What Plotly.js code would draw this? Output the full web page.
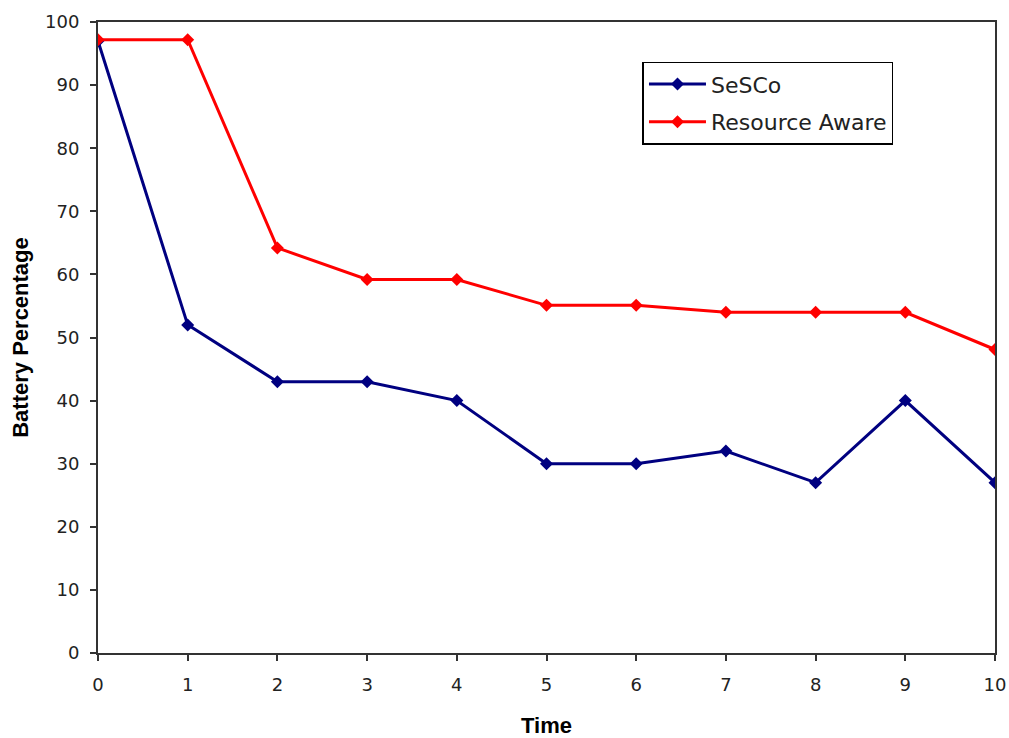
<!DOCTYPE html>
<html>
<head>
<meta charset="utf-8">
<script src="https://cdn.plot.ly/plotly-3.0.1.min.js"></script>
<style>
  html, body { margin: 0; padding: 0; background: #fff; }
  #chart { width: 1009px; height: 738px; }
</style>
</head>
<body>
<div id="chart"></div>
<script>
// Battery level over time for the two schemes
const time = [0, 1, 2, 3, 4, 5, 6, 7, 8, 9, 10];
const sescoBattery = [97, 52, 43, 43, 40, 30, 30, 32, 27, 40, 27];
const resourceAwareBattery = [97.2, 97.2, 64.2, 59.2, 59.2, 55.1, 55.1, 54, 54, 54, 48.1];
const seriesNames = ['SeSCo', 'Resource Aware'];
const yTicks = [0, 10, 20, 30, 40, 50, 60, 70, 80, 90, 100];

const tickFamily = 'DejaVu Sans, Verdana, sans-serif';
const titleFamily = 'Liberation Sans, Arial, sans-serif';

const traces = [
  {
    x: time, y: sescoBattery, name: seriesNames[0], legendgroup: 'a',
    type: 'scatter', mode: 'lines+markers',
    line: { color: '#000080', width: 3 },
    marker: { symbol: 'diamond', size: 10, color: '#000080' }
  },
  {
    x: time, y: resourceAwareBattery, name: seriesNames[1], legendgroup: 'b',
    type: 'scatter', mode: 'lines+markers',
    line: { color: '#ff0000', width: 3 },
    marker: { symbol: 'diamond', size: 10, color: '#ff0000' }
  }
];

const axisCommon = {
  showgrid: false, zeroline: false,
  showline: true, linecolor: '#333', linewidth: 2, mirror: true,
  ticks: 'outside', ticklen: 6, tickcolor: '#333', tickwidth: 2,
  tickfont: { size: 18, family: tickFamily, color: '#222' }
};

const layout = {
  width: 1009, height: 738,
  margin: { l: 98, r: 14, t: 22, b: 85 },
  paper_bgcolor: '#fff', plot_bgcolor: '#fff',
  font: { family: tickFamily, color: '#000' },
  showlegend: true,
  legend: {
    x: 0.607, y: 0.937, xanchor: 'left', yanchor: 'top',
    bordercolor: '#000', borderwidth: 1.5, bgcolor: '#fff',
    font: { size: 22, family: tickFamily, color: '#222' },
    tracegroupgap: 6, itemwidth: 57
  },
  xaxis: Object.assign({}, axisCommon, {
    range: [0, 10], tickvals: time, ticklabelstandoff: 8,
    title: { text: '<b>Time</b>', font: { size: 22, family: titleFamily, color: '#000' }, standoff: 25 }
  }),
  yaxis: Object.assign({}, axisCommon, {
    range: [0, 100], tickvals: yTicks, ticklabelstandoff: 7,
    title: { text: '<b>Battery Percentage</b>', font: { size: 22, family: titleFamily, color: '#000' }, standoff: 10 }
  })
};

Plotly.newPlot('chart', traces, layout, { displayModeBar: false, staticPlot: true });
</script>
</body>
</html>
